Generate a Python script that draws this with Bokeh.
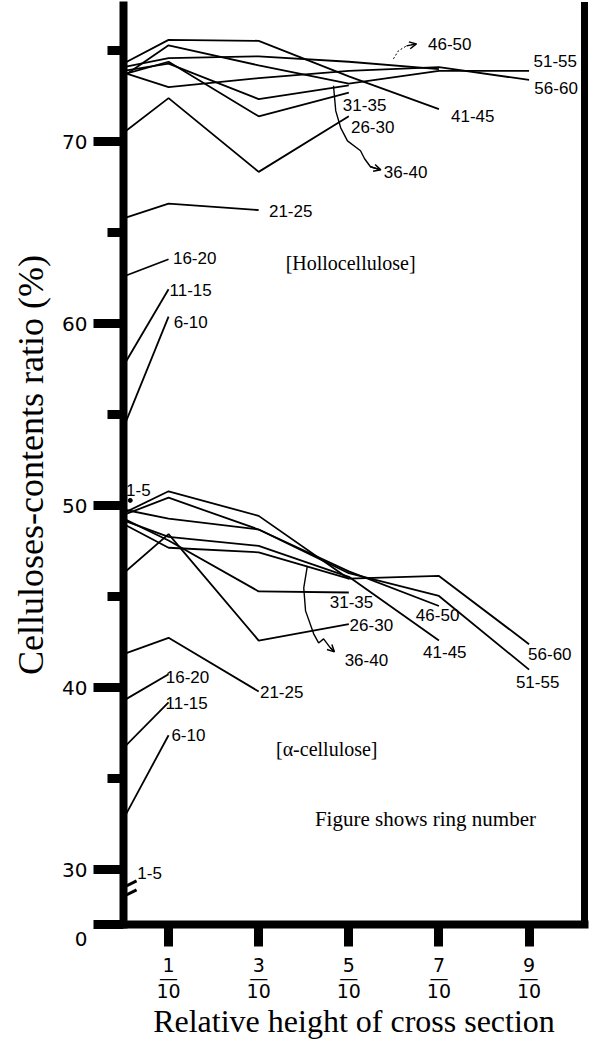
from bokeh.plotting import figure
from bokeh.models import Range1d, FixedTicker, LinearAxis, Arrow, OpenHead
from bokeh.core.properties import value
from bokeh.embed import file_html
from bokeh.resources import INLINE

# relative height of cross section, in tenths (0 = base)
HEIGHTS = [0, 1, 3, 5, 7, 9]
X_TICKS = [1, 3, 5, 7, 9]
X_DENOM = "10"
Y_TICKS = [30, 40, 50, 60, 70]
Y_MINOR = [35, 45, 55, 65, 75]
Y_ORIGIN = 27          # where the broken axis shows "0"
Y_ORIGIN_LABEL = "0"

# Hollocellulose (%) per ring group, along HEIGHTS
HOLLO_6_10 = [54.3, 60.4]
HOLLO_11_15 = [57.7, 61.9]
HOLLO_16_20 = [62.6, 63.55]
HOLLO_21_25 = [65.8, 66.6, 66.25]
HOLLO_26_30 = [70.5, 72.4, 68.35, 71.4]
HOLLO_31_35 = [73.7, 74.4, 71.4, 72.7]
HOLLO_36_40 = [73.9, 74.3, 72.35, 73.1]
HOLLO_41_45 = [74.3, 75.6, 75.55, 73.6, 71.8]
HOLLO_46_50 = [74.1, 74.6, 74.7, 74.4, 74.0]
HOLLO_51_55 = [73.6, 75.3, 74.2, 73.2, 73.9, 73.9]
HOLLO_56_60 = [73.8, 73.0, 73.5, 73.9, 74.1, 73.4]
HOLLO_1_5 = 50.3

# alpha-cellulose (%) per ring group, along HEIGHTS
ALPHA_6_10 = [32.8, 37.4]
ALPHA_11_15 = [36.7, 39.2]
ALPHA_16_20 = [39.3, 40.75]
ALPHA_21_25 = [41.85, 42.75, 39.8]
ALPHA_26_30 = [46.3, 48.45, 42.6, 43.5]
ALPHA_31_35 = [49.3, 48.1, 45.3, 45.24]
ALPHA_36_40 = [49.0, 47.7, 47.45, 46.0]
ALPHA_41_45 = [49.2, 48.3, 47.8, 46.1, 42.6]
ALPHA_46_50 = [49.8, 49.3, 48.7, 46.4, 44.5]
ALPHA_51_55 = [49.5, 50.45, 48.7, 46.3, 45.05, 41.0]
ALPHA_56_60 = [49.6, 50.8, 49.45, 46.0, 46.15, 42.4]
ALPHA_1_5 = 29.8

HOLLO = [HOLLO_6_10, HOLLO_11_15, HOLLO_16_20, HOLLO_21_25, HOLLO_26_30, HOLLO_31_35,
         HOLLO_36_40, HOLLO_41_45, HOLLO_46_50, HOLLO_51_55, HOLLO_56_60]
ALPHA = [ALPHA_6_10, ALPHA_11_15, ALPHA_16_20, ALPHA_21_25, ALPHA_26_30, ALPHA_31_35,
         ALPHA_36_40, ALPHA_41_45, ALPHA_46_50, ALPHA_51_55, ALPHA_56_60]

# ring-number label placement (x in tenths, y in %)
HOLLO_LABEL_POS = {"6-10": (1.49, 60.11), "11-15": (1.49, 61.87), "16-20": (1.58, 63.63),
                   "21-25": (3.71, 66.21), "26-30": (5.53, 70.82), "31-35": (5.35, 72.03),
                   "36-40": (6.26, 68.35), "41-45": (7.75, 71.43), "46-50": (7.24, 75.38),
                   "51-55": (9.58, 74.45), "56-60": (9.60, 72.97), "1-5": (0.33, 50.88)}
ALPHA_LABEL_POS = {"6-10": (1.44, 37.42), "11-15": (1.40, 39.18), "16-20": (1.42, 40.60),
                   "21-25": (3.51, 39.78), "26-30": (5.50, 43.46), "31-35": (5.06, 44.73),
                   "36-40": (5.39, 41.54), "41-45": (7.13, 41.98), "46-50": (6.97, 44.01),
                   "51-55": (9.19, 40.33), "56-60": (9.46, 41.87), "1-5": (0.58, 29.84)}

# pointer paths (x in tenths, y in %)
PTR_H36_X = [4.66, 4.71, 4.82, 4.97, 5.26, 5.35, 5.48, 5.71]
PTR_H36_Y = [73.08, 71.70, 70.77, 70.05, 69.51, 69.07, 68.63, 68.46]
PTR_H46_X = [5.99, 6.10, 6.28, 6.50]
PTR_H46_Y = [74.56, 75.00, 75.27, 75.38]
PTR_A36_X = [4.08, 4.00, 4.04, 4.22, 4.33, 4.44, 4.59, 4.68]
PTR_A36_Y = [46.70, 45.49, 44.23, 42.97, 42.47, 42.69, 42.20, 41.98]

X_MIN, X_MAX = 0, 10.23
Y_MIN, Y_MAX = Y_ORIGIN, 77.49

p = figure(width=589, height=1041, output_backend="svg", toolbar_location=None,
           x_range=Range1d(X_MIN, X_MAX), y_range=Range1d(Y_MIN, Y_MAX),
           min_border_left=123, min_border_right=5, min_border_top=5, min_border_bottom=117)
p.title.visible = False
p.xgrid.visible = False
p.ygrid.visible = False
p.outline_line_color = None
p.background_fill_color = "white"
p.border_fill_color = "white"

xa = p.xaxis[0]
xa.ticker = FixedTicker(ticks=X_TICKS, minor_ticks=[])
xa.major_label_overrides = {t: f"{t}\n\u2014\n{X_DENOM}" for t in X_TICKS}
xa.axis_line_width = 8
xa.axis_line_cap = "square"
xa.axis_line_color = "black"
xa.major_tick_line_width = 9
xa.major_tick_out = 22
xa.major_tick_in = 0
xa.minor_tick_out = 0
xa.major_label_text_font = "DejaVu Sans"
xa.major_label_text_font_size = "19px"
xa.major_label_text_line_height = 0.6
xa.major_label_text_color = "black"
xa.major_label_standoff = 7
xa.axis_label = "Relative height of cross section"
xa.axis_label_text_font = "Liberation Serif"
xa.axis_label_text_font_size = "32px"
xa.axis_label_text_font_style = "normal"
xa.axis_label_text_color = "black"
xa.axis_label_standoff = -2

ya = p.yaxis[0]
ya.ticker = FixedTicker(ticks=[Y_ORIGIN] + Y_TICKS, minor_ticks=Y_MINOR)
ya.major_label_overrides = {Y_ORIGIN: "\n" + Y_ORIGIN_LABEL}
ya.axis_line_width = 8
ya.axis_line_cap = "square"
ya.axis_line_color = "black"
ya.major_tick_line_width = 9
ya.major_tick_out = 30
ya.major_tick_in = 0
ya.minor_tick_line_width = 9
ya.minor_tick_out = 16
ya.minor_tick_in = 0
ya.major_label_text_font = "DejaVu Sans"
ya.major_label_text_font_size = "20px"
ya.major_label_text_color = "black"
ya.major_label_standoff = 6
ya.axis_label = "Celluloses-contents ratio (%)"
ya.axis_label_text_font = "Liberation Serif"
ya.axis_label_text_font_size = "36px"
ya.axis_label_text_font_style = "normal"
ya.axis_label_text_color = "black"
ya.axis_label_standoff = 8

ra = LinearAxis(ticker=FixedTicker(ticks=[], minor_ticks=[]), axis_line_width=7,
                axis_line_cap="square", major_tick_out=0, major_tick_in=0,
                minor_tick_out=0, minor_tick_in=0, major_label_text_font_size="0px",
                major_label_standoff=0, axis_label_standoff=0)
p.add_layout(ra, "right")

# series lines
xs, ys = [], []
for series in HOLLO + ALPHA:
    xs.append(HEIGHTS[:len(series)])
    ys.append(series)
p.multi_line(xs, ys, line_color="black", line_width=1.8)

# ring 1-5 single values at the base
p.scatter([0.15], [HOLLO_1_5], size=4, color="black")
p.scatter([HEIGHTS[0]], [ALPHA_1_5], size=4, color="black")

# ring-number labels
lx, ly, lt = [], [], []
for pos in (HOLLO_LABEL_POS, ALPHA_LABEL_POS):
    for k, (x, y) in pos.items():
        lx.append(x); ly.append(y); lt.append(k)
p.text(x=lx, y=ly, text=lt, text_align="center", text_baseline="middle",
       text_font=value("Liberation Sans"), text_font_size="17px", text_color="black")

# pointers
p.line(PTR_H36_X, PTR_H36_Y, line_color="black", line_width=1.4)
p.line(PTR_A36_X, PTR_A36_Y, line_color="black", line_width=1.4)
p.line(PTR_H46_X, PTR_H46_Y, line_color="black", line_width=1.0, line_dash="2 2")
for px, py in ((PTR_H36_X, PTR_H36_Y), (PTR_A36_X, PTR_A36_Y), (PTR_H46_X, PTR_H46_Y)):
    p.add_layout(Arrow(end=OpenHead(size=7, line_width=1.5, line_color="black"),
                       x_start=px[-2], y_start=py[-2], x_end=px[-1], y_end=py[-1],
                       line_width=1.4, line_color="black"))

# group captions
p.text(x=[5.04, 4.51], y=[63.35, 36.65], text=["[Hollocellulose]", "[α-cellulose]"],
       text_align="center", text_baseline="middle",
       text_font=value("Liberation Serif"), text_font_size="20px", text_color="black")
p.text(x=[6.70], y=[32.80], text=["Figure shows ring number"],
       text_align="center", text_baseline="middle",
       text_font=value("Liberation Serif"), text_font_size="21px", text_color="black")

# axis break marks
for y0, y1 in ((28.68, 29.40), (28.19, 28.90)):
    p.add_layout(Arrow(end=None, x_start=-0.29, y_start=y0, x_end=0.29, y_end=y1,
                       line_width=3, line_color="black"))

open("out.html", "w").write(file_html(p, INLINE))
